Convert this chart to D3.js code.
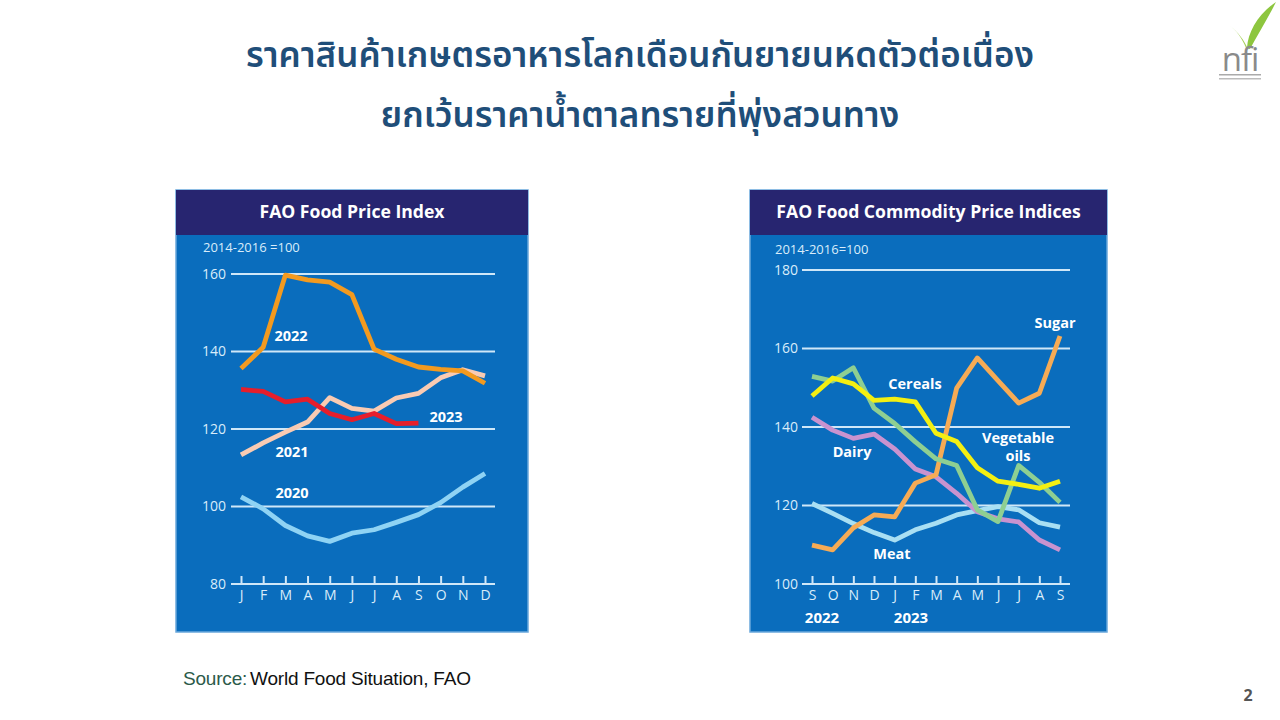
<!DOCTYPE html>
<html><head><meta charset="utf-8">
<script src="https://cdn.jsdelivr.net/npm/d3@7"></script>
<style>body{margin:0;background:#fff;}svg{display:block;}</style>
</head><body>
<svg id="c" width="1280" height="720"></svg>
<script>
// ---- data ----
const monthsL = ["J","F","M","A","M","J","J","A","S","O","N","D"];
const y2020 = [102.5,99.4,95.1,92.4,91.0,93.1,94.0,95.9,97.9,101.0,105.0,108.5];
const y2021 = [113.3,116.4,119.2,121.8,128.1,125.3,124.6,128.0,129.2,133.2,135.3,133.7];
const y2022 = [135.6,141.1,159.7,158.5,157.9,154.7,140.6,138.0,136.0,135.4,135.0,131.8];
const y2023 = [130.2,129.7,127.0,127.7,124.0,122.4,124.0,121.4,121.5];
const ticksL = [80,100,120,140,160];

const monthsR = ["S","O","N","D","J","F","M","A","M","J","J","A","S"];
const sugar   = [109.9,108.7,114.3,117.6,117.1,125.7,127.8,149.9,157.6,151.8,146.1,148.6,163.2];
const cereals = [147.9,152.5,151.0,146.8,147.1,146.4,138.4,136.3,129.6,126.2,125.4,124.4,126.2];
const vegoils = [152.9,151.7,155.1,144.8,140.9,136.2,131.9,130.2,118.9,115.9,130.2,125.9,120.8];
const dairy   = [142.5,139.2,137.1,138.2,134.4,129.3,127.3,123.1,118.4,116.6,115.8,111.2,108.7];
const meat    = [120.5,118.0,115.4,113.1,111.2,113.8,115.5,117.6,118.7,119.7,118.9,115.6,114.5];
const ticksR = [100,120,140,160,180];

const svg = d3.select("#c");
const F = "'Open Sans','Noto Sans',sans-serif";

// ---- page title ----
const thaiF = "'Noto Sans Thai','Noto Sans Thai UI','Loma','Garuda','Tahoma','Noto Sans',sans-serif";
svg.append("text").attr("x",640).attr("y",67).attr("text-anchor","middle")
  .attr("font-family",thaiF).attr("font-size",35).attr("font-weight",600).attr("fill","#1f4e79")
  .text("ราคาสินค้าเกษตรอาหารโลกเดือนกันยายนหดตัวต่อเนื่อง");
svg.append("text").attr("x",640).attr("y",127).attr("text-anchor","middle")
  .attr("font-family",thaiF).attr("font-size",35).attr("font-weight",600).attr("fill","#1f4e79")
  .text("ยกเว้นราคาน้ำตาลทรายที่พุ่งสวนทาง");

// ---- logo ----
const lg = svg.append("g");
lg.append("path").attr("d","M1247,48 C1248,32 1258,14 1276,2 C1268,18 1258,34 1250,49 Z").attr("fill","#8dc63f");
lg.append("path").attr("d","M1246,48 C1242,38 1236,30 1230,26 C1238,32 1244,40 1248,49 Z").attr("fill","#a6d05a");
lg.append("text").attr("x",1240).attr("y",71).attr("text-anchor","middle").attr("font-family",F)
  .attr("font-size",33).attr("fill","#8a8a8a").attr("letter-spacing",-1).text("nfi");
lg.append("rect").attr("x",1219).attr("y",74).attr("width",42).attr("height",1.5).attr("fill","#aaa");
lg.append("rect").attr("x",1219).attr("y",78).attr("width",42).attr("height",1.5).attr("fill","#bbb");

// ---- source & page number ----
const src = svg.append("text").attr("x",183).attr("y",685).attr("font-family","'Liberation Sans','Open Sans',sans-serif")
  .attr("font-size",19).attr("letter-spacing",-0.2);
src.append("tspan").attr("fill","#2c5a4a").text("Source:");
src.append("tspan").attr("fill","#111").attr("dx",3).text("World Food Situation, FAO");
svg.append("text").attr("x",1248).attr("y",701).attr("text-anchor","middle").attr("font-family",F)
  .attr("font-size",16).attr("font-weight","bold").attr("fill","#555").text("2");

// ---- panel helper ----
function panel(x0,w,title){
  svg.append("rect").attr("x",x0).attr("y",190).attr("width",w).attr("height",442).attr("fill","#0a6dbd")
    .attr("stroke","#6aa8dc").attr("stroke-width",1.5);
  svg.append("rect").attr("x",x0).attr("y",190).attr("width",w).attr("height",45).attr("fill","#272570");
  svg.append("text").attr("x",x0+w/2).attr("y",218).attr("text-anchor","middle").attr("font-family",F)
    .attr("font-size",17.6).attr("font-weight","bold").attr("fill","#fff").text(title);
}
const gridC = "#cfe7f8", lblC = "#d9ecfa";

function axes(x, y, ticks, labels, gx0, gx1, labX){
  const g = svg.append("g");
  ticks.forEach(t=>{
    g.append("line").attr("x1",gx0).attr("x2",gx1).attr("y1",y(t)).attr("y2",y(t))
      .attr("stroke",gridC).attr("stroke-width",2);
  });
  const ya = d3.axisLeft(y).tickValues(ticks).tickSize(0).tickPadding(0);
  const yg = svg.append("g").attr("transform",`translate(${labX},0)`).call(ya);
  yg.select(".domain").remove();
  yg.selectAll("text").attr("font-family",F).attr("font-size",14).attr("fill",lblC);
  const xa = d3.axisTop(x).tickSize(8).tickFormat(i=>"");
  const xg = svg.append("g").attr("transform",`translate(0,${y(ticks[0])})`).call(xa);
  xg.select(".domain").remove();
  xg.selectAll("line").attr("stroke",gridC).attr("stroke-width",2);
  const xb = d3.axisBottom(x).tickSize(0).tickPadding(6).tickFormat(i=>labels[i]);
  const xl = svg.append("g").attr("transform",`translate(0,${y(ticks[0])})`).call(xb);
  xl.select(".domain").remove();
  xl.selectAll("text").attr("font-family",F).attr("font-size",14).attr("fill",lblC);
}
function line(x,y,data,color,w){
  svg.append("path").datum(data).attr("fill","none").attr("stroke",color).attr("stroke-width",w||4.8)
    .attr("stroke-linejoin","round").attr("stroke-linecap","butt")
    .attr("d",d3.line().x((d,i)=>x(i)).y(d=>y(d)));
}
function label(x,y,t,size){
  svg.append("text").attr("x",x).attr("y",y).attr("text-anchor","middle").attr("font-family",F)
    .attr("font-size",size||14.5).attr("font-weight","bold").attr("fill","#fff").text(t);
}

// ---- left chart ----
panel(176,352,"FAO Food Price Index");
const xL = d3.scalePoint().domain(d3.range(monthsL.length)).range([241,485]);
const yL = d3.scaleLinear().domain([80,160]).range([584,274]);
svg.append("text").attr("x",203).attr("y",252).attr("font-family",F).attr("font-size",13).attr("fill",lblC).text("2014-2016 =100");
axes(xL,yL,ticksL,monthsL,231,495,226);
line(xL,yL,y2020,"#8fd3f4");
line(xL,yL,y2021,"#f9cbb3");
line(xL,yL,y2022,"#f39a1f");
line(xL,yL,y2023,"#e61e2b");
label(291,341,"2022");
label(292,457,"2021");
label(292,498,"2020");
label(446,422,"2023");

// ---- right chart ----
panel(750,357,"FAO Food Commodity Price Indices");
const xR = d3.scalePoint().domain(d3.range(monthsR.length)).range([812,1060]);
const yR = d3.scaleLinear().domain([100,180]).range([584,270]);
svg.append("text").attr("x",775).attr("y",254).attr("font-family",F).attr("font-size",13).attr("fill",lblC).text("2014-2016=100");
axes(xR,yR,ticksR,monthsR,802,1070,798);
line(xR,yR,meat,"#a9dff3");
line(xR,yR,dairy,"#c993cf");
line(xR,yR,sugar,"#f6ab55");
line(xR,yR,vegoils,"#8ecf92");
line(xR,yR,cereals,"#f3ef12");
label(1055,328,"Sugar");
label(915,389,"Cereals");
label(852,457,"Dairy");
label(1018,443,"Vegetable");
label(1018,461,"oils");
label(892,559,"Meat");
label(822,623,"2022",15);
label(911,623,"2023",15);
</script>
</body></html>
